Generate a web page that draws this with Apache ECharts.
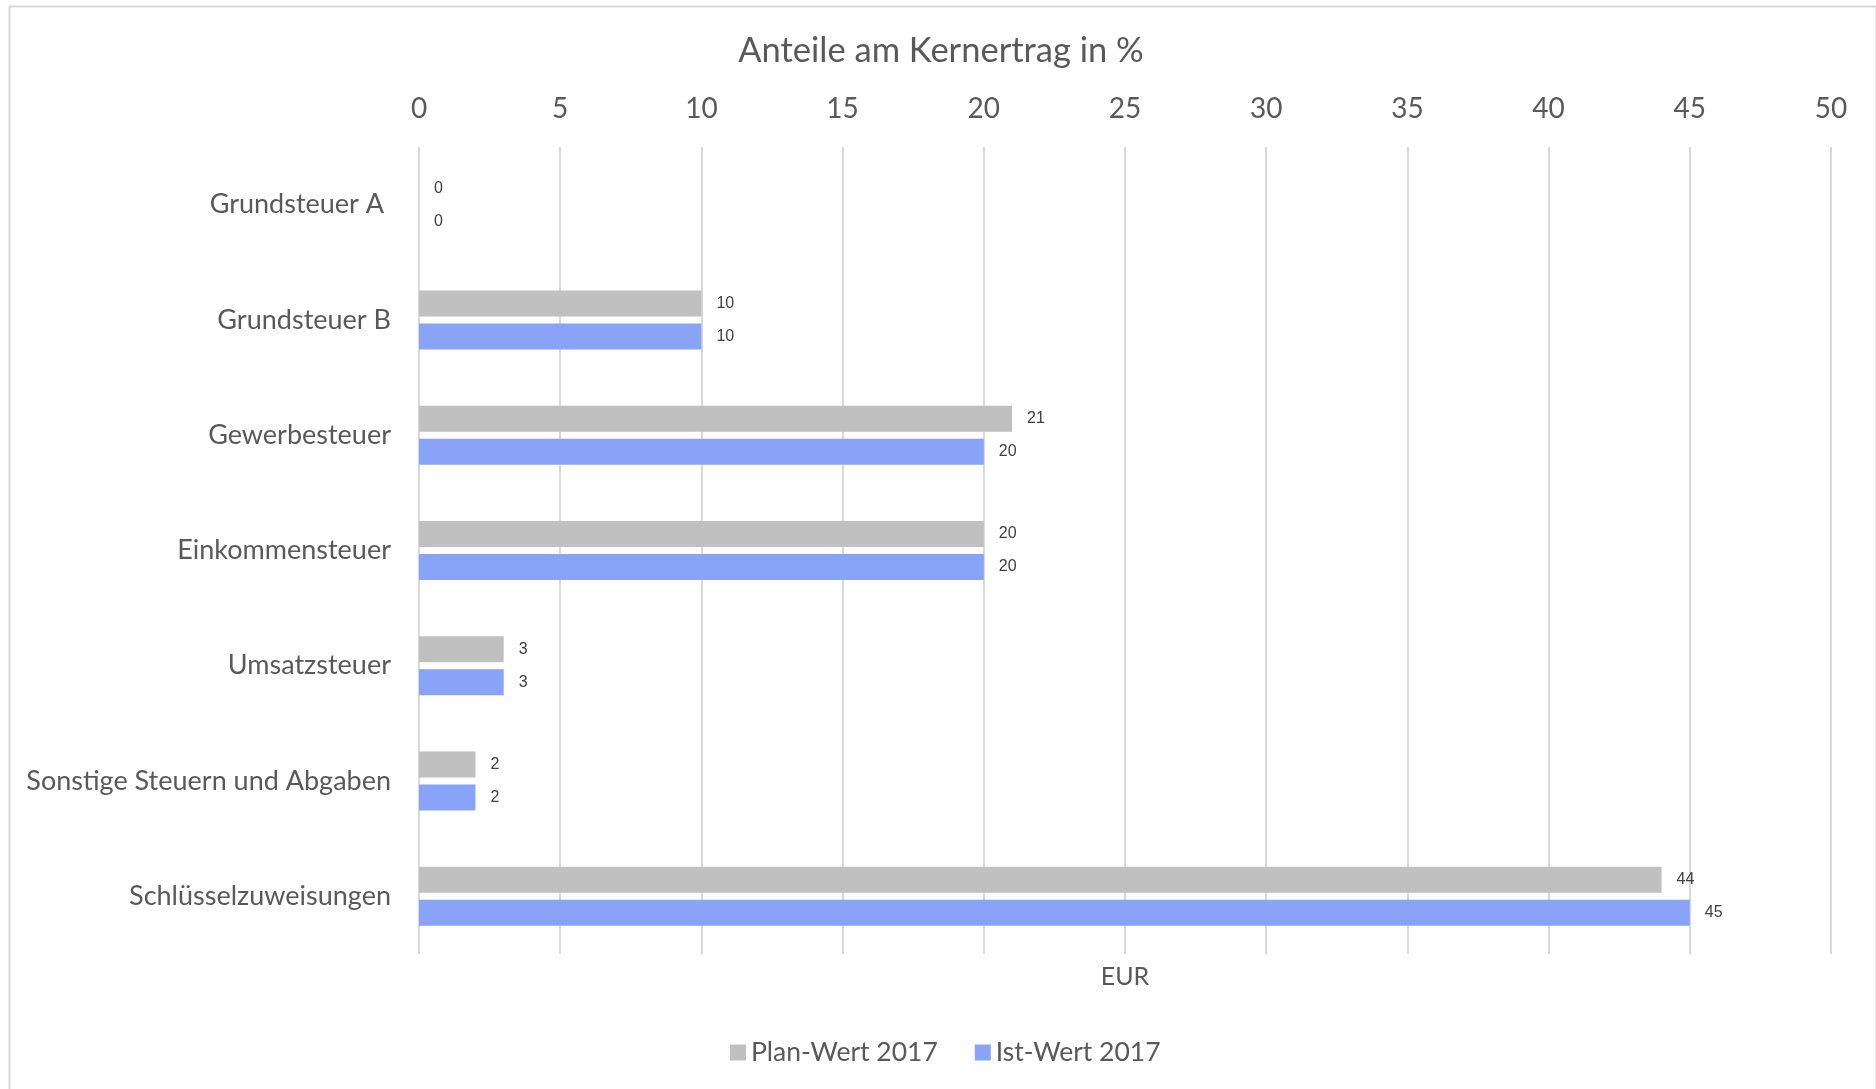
<!DOCTYPE html>
<html>
<head>
<meta charset="utf-8">
<script src="https://cdn.jsdelivr.net/npm/echarts@6/dist/echarts.min.js"></script>
<style>
html,body{margin:0;padding:0;background:#fff;}
#chart{width:1876px;height:1089px;}
</style>
</head>
<body>
<div id="chart"></div>
<script>
const categories = ["Grundsteuer A ", "Grundsteuer B", "Gewerbesteuer", "Einkommensteuer", "Umsatzsteuer", "Sonstige Steuern und Abgaben", "Schlüsselzuweisungen"];
const planWert2017 = [0, 10, 21, 20, 3, 2, 44];
const istWert2017 = [0, 10, 20, 20, 3, 2, 45];
const seriesNames = ["Plan-Wert 2017", "Ist-Wert 2017"];
const axisMin = 0, axisMax = 50, axisStep = 5;

const FONT = "Lato";
const TXT = "#595959";
const chart = echarts.init(document.getElementById('chart'));
const labelCfg = {
  show: true, position: 'right', distance: 15,
  fontFamily: 'Liberation Sans', fontSize: 16, color: '#404040'
};
chart.setOption({
  animation: false,
  backgroundColor: '#fff',
  title: {
    text: 'Anteile am Kernertrag in %',
    left: 936, textAlign: 'center', top: 28,
    textStyle: {fontFamily: FONT, fontSize: 34.5, fontWeight: 'normal', color: TXT}
  },
  graphic: [{
    type: 'rect', left: 7, top: 4,
    shape: {x: 0, y: 0, width: 1867, height: 1100},
    style: {fill: 'none', stroke: '#d9d9d9', lineWidth: 2},
    silent: true
  }],
  legend: {
    data: seriesNames,
    left: 725, top: 1034,
    itemWidth: 16, itemHeight: 16, itemGap: 37,
    icon: 'rect',
    textStyle: {fontFamily: FONT, fontSize: 26.5, color: TXT, padding: [0,0,0,0]}
  },
  grid: {left: 419, right: 45, top: 147, bottom: 135, containLabel: false},
  xAxis: [{
    type: 'value', position: 'top', min: axisMin, max: axisMax, interval: axisStep,
    axisLine: {show: false}, axisTick: {show: false},
    splitLine: {show: true, lineStyle: {color: '#d9d9d9', width: 2}},
    axisLabel: {fontFamily: FONT, fontSize: 28, color: TXT, margin: 24}
  }, {
    type: 'value', position: 'bottom', min: axisMin, max: axisMax, interval: axisStep,
    axisLine: {show: false}, axisTick: {show: false}, splitLine: {show: false},
    axisLabel: {show: false},
    name: 'EUR', nameLocation: 'middle', nameGap: 10,
    nameTextStyle: {fontFamily: FONT, fontSize: 25, color: TXT}
  }],
  yAxis: {
    type: 'category', data: categories, inverse: true,
    axisLine: {show: false}, axisTick: {show: false},
    axisLabel: {fontFamily: FONT, fontSize: 27, color: TXT, margin: 28}
  },
  series: [{
    name: seriesNames[0], type: 'bar', data: planWert2017,
    barWidth: 26, barGap: '27%',
    itemStyle: {color: '#c0c0c0'},
    label: labelCfg
  }, {
    name: seriesNames[1], type: 'bar', data: istWert2017,
    barWidth: 26, barGap: '27%',
    itemStyle: {color: '#88a3f8'},
    label: labelCfg
  }]
});
</script>
</body>
</html>
